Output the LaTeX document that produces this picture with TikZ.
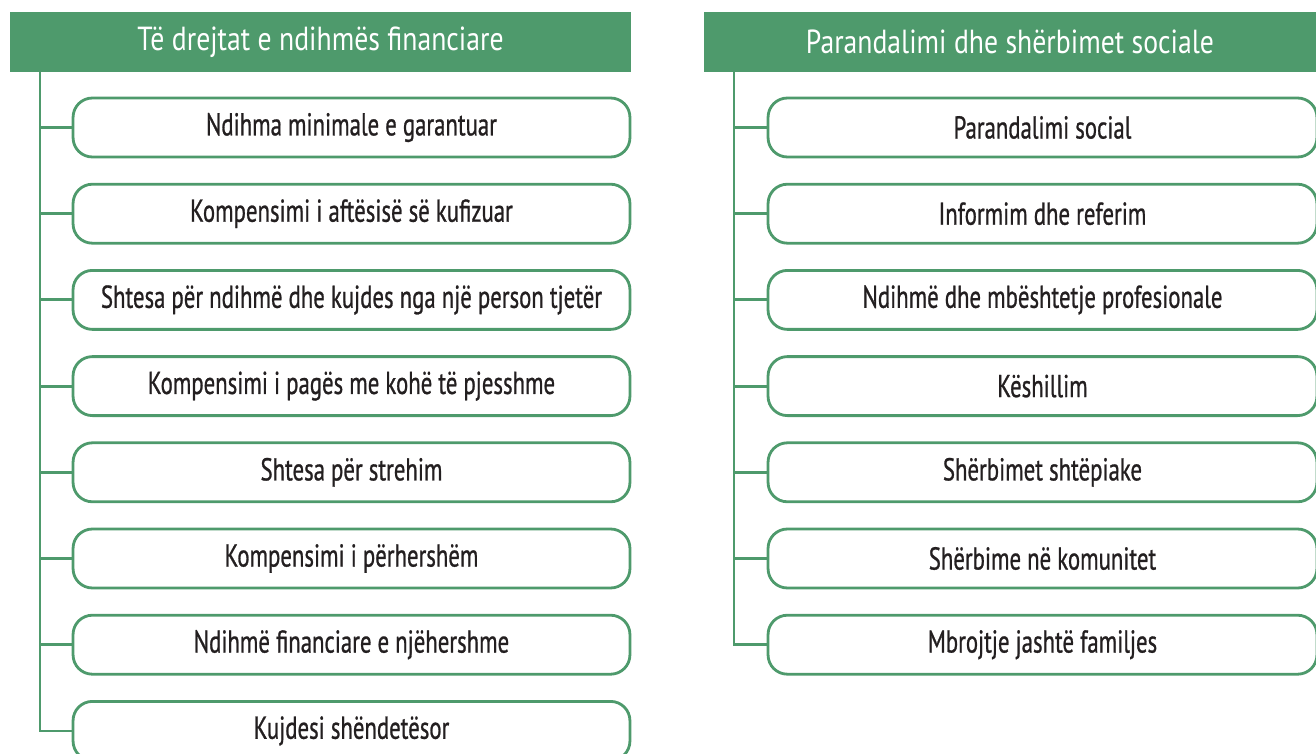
\documentclass[tikz,border=0pt]{standalone}
\usepackage{fontspec}
\setmainfont[FakeStretch=0.72, FakeBold=0.8]{PT Sans}
\newfontfamily\headfont[FakeStretch=0.83]{PT Sans}
\definecolor{leaf}{RGB}{78,154,108}
\definecolor{ink}{RGB}{35,31,32}

\begin{document}
\begin{tikzpicture}[x=0.02cm, y=-0.02cm,
    header/.style={fill=leaf, minimum height=1.2cm, inner sep=0pt, text=white, font=\headfont\fontsize{19}{21}\selectfont},
    item/.style={draw=leaf, line width=1.6pt, rounded corners=11pt, minimum height=1.18cm, inner sep=0pt, text=ink, font=\fontsize{18}{20}\selectfont},
    branch/.style={draw=leaf, line width=1.6pt}]
    \clip (0, 0) rectangle (1316, 754);

    % left column
    \node[header, minimum width=12.42cm] (lh) at (320.5, 42) {Të drejtat e ndihmës financiare};
    \coordinate (ltrunk) at (40, 72);

    \node[item, minimum width=11.14cm] (l1) at (351.5, 127.5) {Ndihma minimale e garantuar};
    \node[item, minimum width=11.14cm] (l2) at (351.5, 213.7) {Kompensimi i aftësisë së kufizuar};
    \node[item, minimum width=11.14cm] (l3) at (351.5, 299.9) {Shtesa për ndihmë dhe kujdes nga një person tjetër};
    \node[item, minimum width=11.14cm] (l4) at (351.5, 386.1) {Kompensimi i pagës me kohë të pjesshme};
    \node[item, minimum width=11.14cm] (l5) at (351.5, 472.3) {Shtesa për strehim};
    \node[item, minimum width=11.14cm] (l6) at (351.5, 558.5) {Kompensimi i përhershëm};
    \node[item, minimum width=11.14cm] (l7) at (351.5, 644.7) {Ndihmë financiare e njëhershme};
    \node[item, minimum width=11.14cm] (l8) at (351.5, 730.9) {Kujdesi shëndetësor};

    \draw[branch] (ltrunk) |- (l8.west);
    \draw[branch] (ltrunk |- l1.west) -- (l1.west);
    \draw[branch] (ltrunk |- l2.west) -- (l2.west);
    \draw[branch] (ltrunk |- l3.west) -- (l3.west);
    \draw[branch] (ltrunk |- l4.west) -- (l4.west);
    \draw[branch] (ltrunk |- l5.west) -- (l5.west);
    \draw[branch] (ltrunk |- l6.west) -- (l6.west);
    \draw[branch] (ltrunk |- l7.west) -- (l7.west);

    % right column
    \node[header, minimum width=12.24cm] (rh) at (1010, 42) {Parandalimi dhe shërbimet sociale};
    \coordinate (rtrunk) at (734, 72);

    \node[item, minimum width=10.98cm] (r1) at (1042.5, 127.5) {Parandalimi social};
    \node[item, minimum width=10.98cm] (r2) at (1042.5, 213.7) {Informim dhe referim};
    \node[item, minimum width=10.98cm] (r3) at (1042.5, 299.9) {Ndihmë dhe mbështetje profesionale};
    \node[item, minimum width=10.98cm] (r4) at (1042.5, 386.1) {Këshillim};
    \node[item, minimum width=10.98cm] (r5) at (1042.5, 472.3) {Shërbimet shtëpiake};
    \node[item, minimum width=10.98cm] (r6) at (1042.5, 558.5) {Shërbime në komunitet};
    \node[item, minimum width=10.98cm] (r7) at (1042.5, 644.7) {Mbrojtje jashtë familjes};

    \draw[branch] (rtrunk) |- (r7.west);
    \draw[branch] (rtrunk |- r1.west) -- (r1.west);
    \draw[branch] (rtrunk |- r2.west) -- (r2.west);
    \draw[branch] (rtrunk |- r3.west) -- (r3.west);
    \draw[branch] (rtrunk |- r4.west) -- (r4.west);
    \draw[branch] (rtrunk |- r5.west) -- (r5.west);
    \draw[branch] (rtrunk |- r6.west) -- (r6.west);
\end{tikzpicture}
\end{document}
